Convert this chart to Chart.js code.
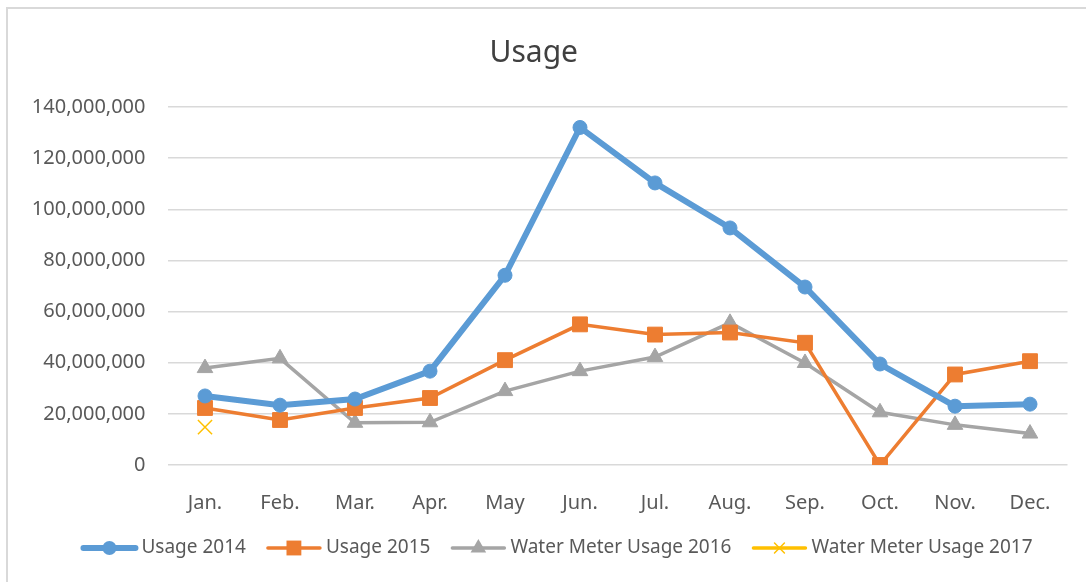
<!DOCTYPE html>
<html>
<head>
<meta charset="utf-8">
<script src="https://cdn.jsdelivr.net/npm/chart.js@4/dist/chart.umd.min.js"></script>
<style>
  html, body { margin: 0; padding: 0; background: #fff; }
  #wrap { width: 1086px; height: 582px; position: relative; }
</style>
</head>
<body>
<div id="wrap"><canvas id="usageChart"></canvas></div>
<script>
const months = ["Jan.", "Feb.", "Mar.", "Apr.", "May", "Jun.", "Jul.", "Aug.", "Sep.", "Oct.", "Nov.", "Dec."];
const usage2014 = [27000000, 23400000, 25800000, 36700000, 74200000, 132000000, 110300000, 92700000, 69600000, 39500000, 23000000, 23800000];
const usage2015 = [22300000, 17600000, 22300000, 26200000, 41000000, 55000000, 51000000, 51800000, 47800000, 0, 35400000, 40600000];
const meter2016 = [37900000, 41700000, 16500000, 16700000, 28900000, 36700000, 42200000, 55600000, 39900000, 20600000, 15700000, 12300000];
const meter2017 = [14800000, null, null, null, null, null, null, null, null, null, null, null];

const FONT = "'Noto Sans', 'Open Sans', sans-serif";
const TEXT = "#595959";

// marker drawing for the custom legend (same shapes as the series)
function drawMarker(ctx, style, x, y, r, color, lw) {
    ctx.save();
    ctx.fillStyle = color;
    ctx.strokeStyle = color;
    ctx.lineWidth = lw;
    ctx.beginPath();
    if (style === "circle") {
        ctx.arc(x, y, r, 0, Math.PI * 2);
        ctx.fill();
    } else if (style === "rect") {
        const s = r * Math.SQRT1_2;
        ctx.rect(x - s, y - s, 2 * s, 2 * s);
        ctx.fill();
    } else if (style === "triangle") {
        ctx.moveTo(x, y - r);
        ctx.lineTo(x + r * 0.866, y + r * 0.5);
        ctx.lineTo(x - r * 0.866, y + r * 0.5);
        ctx.closePath();
        ctx.fill();
    } else if (style === "crossRot") {
        const s = r * Math.SQRT1_2;
        ctx.moveTo(x - s, y - s); ctx.lineTo(x + s, y + s);
        ctx.moveTo(x + s, y - s); ctx.lineTo(x - s, y + s);
        ctx.stroke();
    }
    ctx.restore();
}

const frameAndLegend = {
    id: "frameAndLegend",
    beforeDraw(chart) {
        const ctx = chart.ctx;
        ctx.save();
        ctx.strokeStyle = "#D9D9D9";
        ctx.lineWidth = 2;
        ctx.strokeRect(7, 8, 1200, 700);
        ctx.restore();
    },
    afterDraw(chart) {
        const ctx = chart.ctx;
        const y = 548;
        const lineLen = 56, gapText = 4, gapItem = 20;
        ctx.save();
        ctx.font = "19px " + FONT;
        const items = chart.data.datasets.map(ds => ({ ds, w: ctx.measureText(ds.label).width }));
        let total = 0;
        items.forEach((it, i) => { total += lineLen + gapText + it.w + (i < items.length - 1 ? gapItem : 0); });
        let x = 557 - total / 2;
        items.forEach(it => {
            const ds = it.ds;
            ctx.strokeStyle = ds.borderColor;
            ctx.lineWidth = ds.borderWidth;
            ctx.lineCap = "round";
            ctx.beginPath();
            ctx.moveTo(x + 2, y);
            ctx.lineTo(x + lineLen - 2, y);
            ctx.stroke();
            const r = ds.pointStyle === "crossRot" ? 7 : ds.pointRadius;
            drawMarker(ctx, ds.pointStyle, x + lineLen / 2, y, r, ds.pointBorderColor || ds.borderColor, 1.5);
            ctx.fillStyle = TEXT;
            ctx.textBaseline = "middle";
            ctx.textAlign = "left";
            ctx.fillText(ds.label, x + lineLen + gapText, y);
            x += lineLen + gapText + it.w + gapItem;
        });
        ctx.restore();
    }
};

const ctx = document.getElementById("usageChart").getContext("2d");
new Chart(ctx, {
    type: "line",
    data: {
        labels: months,
        datasets: [
            {
                label: "Usage 2014",
                data: usage2014,
                borderColor: "#5B9BD5",
                backgroundColor: "#5B9BD5",
                borderWidth: 6,
                pointStyle: "circle",
                pointRadius: 7,
                pointBorderWidth: 1,
                pointBorderColor: "#5B9BD5"
            },
            {
                label: "Usage 2015",
                data: usage2015,
                borderColor: "#ED7D31",
                backgroundColor: "#ED7D31",
                borderWidth: 3.5,
                pointStyle: "rect",
                pointRadius: 10.5,
                pointBorderWidth: 1,
                pointBorderColor: "#ED7D31"
            },
            {
                label: "Water Meter Usage 2016",
                data: meter2016,
                borderColor: "#A5A5A5",
                backgroundColor: "#A5A5A5",
                borderWidth: 3.5,
                pointStyle: "triangle",
                pointRadius: 9,
                pointBorderWidth: 1,
                pointBorderColor: "#A5A5A5"
            },
            {
                label: "Water Meter Usage 2017",
                data: meter2017,
                borderColor: "#FFC000",
                backgroundColor: "#FFC000",
                borderWidth: 3.5,
                pointStyle: "crossRot",
                pointRadius: 10,
                pointBorderWidth: 1.5,
                pointBorderColor: "#FFC000"
            }
        ]
    },
    options: {
        responsive: true,
        maintainAspectRatio: false,
        animation: false,
        layout: { padding: { top: 0, right: 18.5, bottom: 0, left: 0 } },
        scales: {
            x: {
                offset: true,
                grid: { display: false, offset: true },
                border: { display: false },
                ticks: { color: TEXT, font: { family: FONT, size: 20 }, padding: 18 },
                afterFit: (scale) => { scale.height = 117; }
            },
            y: {
                min: 0,
                max: 140000000,
                ticks: {
                    stepSize: 20000000,
                    color: TEXT,
                    font: { family: FONT, size: 20 },
                    padding: 22,
                    callback: (v) => v.toLocaleString("en-US")
                },
                grid: { color: "#D9D9D9", lineWidth: 1.5, drawTicks: false },
                border: { display: false },
                afterFit: (scale) => { scale.width = 167.5; }
            }
        },
        plugins: {
            legend: { display: false },
            tooltip: { enabled: false },
            title: {
                display: true,
                text: "Usage",
                color: "#404040",
                font: { family: FONT, size: 30, weight: "normal" },
                padding: { top: 35, bottom: 36 }
            }
        }
    },
    plugins: [frameAndLegend]
});
</script>
</body>
</html>
